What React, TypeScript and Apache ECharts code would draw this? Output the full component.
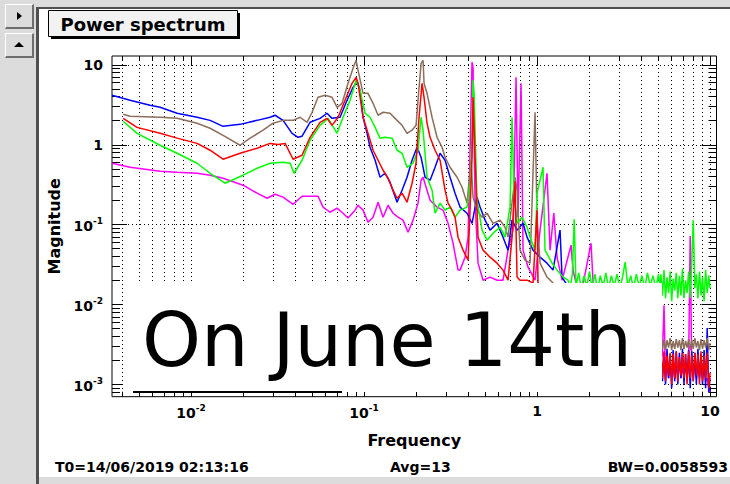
import React, { useEffect, useRef } from 'react';
import * as echarts from 'echarts';

// ---- axis extents and ticks ----
const X_MIN = 0.00349;
const X_MAX = 10.9;
const Y_MIN = 0.000704;
const Y_MAX = 12.9;

const xMajorTicks = [0.01, 0.1, 1, 10];
const xMinorTicks = [0.004, 0.005, 0.006, 0.007, 0.008, 0.009, 0.02, 0.03, 0.04, 0.05, 0.06, 0.07, 0.08, 0.09,
  0.2, 0.3, 0.4, 0.5, 0.6, 0.7, 0.8, 0.9, 2, 3, 4, 5, 6, 7, 8, 9];
const yMajorTicks = [0.001, 0.01, 0.1, 1, 10];
const yMinorTicks = [0.0008, 0.0009, 0.002, 0.003, 0.004, 0.005, 0.006, 0.007, 0.008, 0.009,
  0.02, 0.03, 0.04, 0.05, 0.06, 0.07, 0.08, 0.09, 0.2, 0.3, 0.4, 0.5, 0.6, 0.7, 0.8, 0.9, 2, 3, 4, 5, 6, 7, 8, 9];

// ---- series: [frequency, magnitude] ----
const blueMain = [[0.00349,4.16],[0.00444,3.6],[0.00579,3.12],[0.00662,2.94],[0.0083,2.48],[0.01083,2.21],[0.01288,2.02],[0.01531,1.7],[0.0192,1.8],[0.02407,2.02],[0.02861,2.21],[0.03058,2.34],[0.03402,2.02],[0.03836,1.39],[0.04154,1.24],[0.04381,1.28],[0.04873,1.91],[0.05568,2.14],[0.0611,2.48],[0.06531,2.14],[0.07265,2.21],[0.07973,3.6],[0.08637,5.23],[0.0911,6.22],[0.09482,4.8],[0.09867,2.21],[0.1041,1.39],[0.1083,0.93],[0.1158,0.64],[0.1237,0.392],[0.1322,0.44],[0.1413,0.34],[0.1551,0.191],[0.1658,0.27],[0.1772,0.392],[0.1894,0.64],[0.2025,0.93],[0.2136,0.698],[0.2253,0.392],[0.2408,0.36],[0.2573,0.523],[0.275,0.783],[0.2939,0.64],[0.3141,0.392],[0.3357,0.248],[0.3588,0.166],[0.3938,0.139],[0.4209,0.104],[0.4498,0.221],[0.4683,0.166],[0.5006,0.114],[0.535,0.0854],[0.5872,0.104],[0.636,0.0698],[0.6797,0.048],[0.717,0.114],[0.7663,0.0854],[0.83,0.104],[0.8754,0.0698],[0.9481,0.048],[1.041,0.0392],[1.142,0.033],[1.237,0.027],[1.358,0.0854],[1.395,0.0221],[1.491,0.0175],[1.659,0.0114],[2.312,0.0064],[3.939,0.0036],[5.14,0.0027]];

const brownMain = [[0.00405,2.41],[0.00444,2.27],[0.00662,2.21],[0.0083,2.14],[0.01083,1.86],[0.01288,1.61],[0.01531,1.31],[0.0192,0.986],[0.02193,1.21],[0.02607,1.52],[0.02979,1.86],[0.03402,2.02],[0.03888,2.02],[0.04266,2.21],[0.04683,1.91],[0.05006,2.55],[0.0542,3.92],[0.05951,4.16],[0.06531,3.92],[0.06982,2.94],[0.0746,3.3],[0.08078,5.87],[0.08637,9.04],[0.08991,11.4],[0.09232,8.54],[0.09867,4.4],[0.1054,4.4],[0.1127,3.3],[0.1205,2.34],[0.1288,2.55],[0.1413,2.48],[0.1551,2.02],[0.1658,1.75],[0.1772,1.39],[0.1894,1.52],[0.1998,1.75],[0.2051,3.6],[0.2136,10.4],[0.2193,11.4],[0.2222,5.87],[0.2312,4.4],[0.2472,2.21],[0.2642,1.24],[0.2824,0.93],[0.2939,0.698],[0.3141,0.523],[0.3449,0.392],[0.3686,0.294],[0.3938,0.186],[0.4154,0.64],[0.4266,0.221],[0.4498,0.152],[0.481,0.124],[0.514,0.139],[0.5568,0.104],[0.611,0.114],[0.6531,0.093],[0.6797,0.0698],[0.717,0.191],[0.7462,0.392],[0.7663,0.27],[0.7973,0.048],[0.8524,0.036],[0.911,0.033],[0.9737,2.55],[1.0,0.124],[1.041,0.033],[1.142,0.0221],[1.237,0.0186],[1.358,0.0114],[2.312,0.0064],[3.939,0.0042],[5.14,0.0034]];

const redMain = [[0.00405,2.14],[0.00487,1.65],[0.00662,1.39],[0.0083,1.21],[0.01083,1.04],[0.01288,0.854],[0.01531,0.659],[0.0192,0.783],[0.02407,0.904],[0.02861,1.04],[0.03184,1.01],[0.03494,1.04],[0.03888,0.659],[0.04381,0.739],[0.04873,1.24],[0.05568,1.91],[0.0611,2.14],[0.06531,1.75],[0.07075,2.21],[0.07763,3.6],[0.08522,5.87],[0.08991,6.98],[0.09232,5.87],[0.09867,2.21],[0.1054,1.39],[0.1127,0.854],[0.1205,0.64],[0.1288,0.48],[0.1376,0.381],[0.1471,0.27],[0.1551,0.214],[0.1658,0.248],[0.1772,0.191],[0.1894,0.33],[0.1998,0.587],[0.2079,2.21],[0.2164,5.87],[0.2222,3.92],[0.2312,1.86],[0.2408,1.24],[0.2573,0.854],[0.275,0.64],[0.2939,0.27],[0.3059,0.186],[0.3227,0.152],[0.3357,0.124],[0.3494,0.0698],[0.3736,0.048],[0.3994,0.036],[0.4209,0.698],[0.4266,3.92],[0.4381,0.698],[0.456,0.0698],[0.4874,0.048],[0.535,0.0392],[0.5872,0.033],[0.636,0.027],[0.6797,0.0202],[0.717,0.0698],[0.7462,0.35],[0.7663,0.0221],[0.7973,0.0202],[0.8754,0.0202],[0.9481,0.0186],[1.0,0.152],[1.013,0.0186],[1.112,0.0152],[1.358,0.0085],[2.312,0.0036],[5.14,0.002]];

const greenMain = [[0.00405,1.97],[0.00487,1.39],[0.00662,0.986],[0.0083,0.783],[0.01083,0.587],[0.01288,0.44],[0.01572,0.33],[0.01998,0.416],[0.02407,0.508],[0.02861,0.587],[0.03402,0.604],[0.03736,0.587],[0.0394,0.44],[0.04381,0.64],[0.04873,1.14],[0.05568,1.75],[0.06191,2.14],[0.06982,1.39],[0.0756,2.21],[0.083,3.6],[0.08991,6.4],[0.09482,4.8],[0.1013,2.48],[0.1083,2.21],[0.1158,1.65],[0.1237,1.21],[0.1322,1.24],[0.1452,1.21],[0.1551,0.854],[0.1658,0.783],[0.1772,0.523],[0.192,0.587],[0.2051,0.854],[0.2136,2.21],[0.2193,1.52],[0.2312,0.392],[0.2472,0.27],[0.2573,0.139],[0.275,0.186],[0.2939,0.152],[0.3141,0.166],[0.3357,0.124],[0.3588,0.152],[0.3938,0.166],[0.4154,0.392],[0.4266,6.4],[0.4323,4.4],[0.4498,0.202],[0.481,0.0854],[0.514,0.064],[0.5568,0.0783],[0.611,0.093],[0.6531,0.0698],[0.6982,0.166],[0.717,2.21],[0.7362,0.248],[0.7663,0.104],[0.819,0.124],[0.8754,0.093],[0.911,0.0698],[0.9737,0.048],[1.0,0.248],[1.083,0.523],[1.112,0.048],[1.221,0.033],[1.305,0.027],[1.413,0.0221],[1.511,0.0202],
  [1.55,0.016],[1.6,0.024],[1.64,0.117],[1.68,0.017],[1.74,0.025],[1.8,0.016],[1.87,0.023],[1.94,0.017],[2.01,0.026],[2.08,0.016],[2.16,0.024],[2.24,0.015],[2.32,0.023],[2.41,0.017],[2.5,0.025],[2.59,0.016],[2.69,0.023],[2.79,0.017],[2.9,0.024],[3.01,0.016],[3.12,0.022],[3.23,0.034],[3.35,0.017],[3.48,0.023],[3.61,0.016],[3.75,0.024],[3.89,0.017],[4.04,0.023],[4.19,0.016],[4.35,0.025],[4.51,0.017],[4.68,0.023],[4.86,0.016],[5.04,0.024],[5.14,0.016]];

const magentaMain = [[0.00349,0.587],[0.00444,0.523],[0.00662,0.467],[0.0083,0.453],[0.01083,0.44],[0.01288,0.416],[0.01531,0.381],[0.01998,0.312],[0.02407,0.248],[0.0275,0.214],[0.03058,0.24],[0.03402,0.221],[0.03888,0.18],[0.04381,0.227],[0.04873,0.227],[0.0542,0.227],[0.05794,0.166],[0.06358,0.143],[0.06982,0.161],[0.0756,0.139],[0.08078,0.121],[0.08872,0.152],[0.09232,0.175],[0.09867,0.152],[0.1054,0.107],[0.1127,0.124],[0.1205,0.191],[0.1288,0.124],[0.1376,0.175],[0.1471,0.139],[0.1572,0.124],[0.168,0.114],[0.1796,0.0806],[0.192,0.114],[0.2051,0.186],[0.2136,0.36],[0.2193,0.392],[0.2312,0.27],[0.2408,0.202],[0.2642,0.166],[0.2862,0.152],[0.3059,0.104],[0.3269,0.0587],[0.3494,0.027],[0.3588,0.027],[0.3836,0.0392],[0.3994,0.0698],[0.4209,10.8],[0.4266,9.31],[0.4381,0.202],[0.456,0.033],[0.4874,0.0202],[0.535,0.0221],[0.5872,0.0202],[0.636,0.0202],[0.6797,0.048],[0.7266,0.0854],[0.7562,6.98],[0.7763,0.124],[0.808,5.87],[0.83,0.048],[0.8872,0.0294],[0.9737,0.0202],[1.041,0.0854],[1.142,0.44],[1.189,0.048],[1.25,0.14],[1.305,0.0392],[1.395,0.0202],[1.572,0.0555],[1.615,0.027],[1.772,0.0114],[2.051,0.0587],[2.135,0.0114],[3.939,0.0036],[5.14,0.002]];

// high-frequency noise floor (5.2 .. 10 Hz)
const hfFreq = [5.2,5.31,5.42,5.53,5.64,5.76,5.88,6.0,6.12,6.25,6.38,6.51,6.65,6.79,6.93,7.07,7.22,7.37,7.52,7.68,7.84,8.0,8.17,8.34,8.51,8.69,8.87,9.05,9.24,9.43,9.63,9.83,10.0];
const greenHf = [0.024,0.013,0.027,0.012,0.022,0.014,0.026,0.011,0.021,0.015,0.025,0.012,0.023,0.013,0.028,0.012,0.02,0.014,0.026,0.012,0.035,0.114,0.016,0.024,0.012,0.026,0.013,0.022,0.011,0.027,0.014,0.023,0.016];
const brownHf = [0.0034,0.0028,0.0037,0.0027,0.0036,0.0029,0.0038,0.0027,0.0035,0.0028,0.0037,0.0029,0.0036,0.0027,0.0038,0.0028,0.0035,0.0029,0.0037,0.0027,0.0036,0.0028,0.0038,0.0029,0.0035,0.0027,0.0037,0.0028,0.0036,0.0029,0.0038,0.0027,0.0033];
const redHf = [0.0024,0.0012,0.0026,0.0011,0.0023,0.0013,0.0025,0.001,0.0024,0.0012,0.0026,0.0011,0.0022,0.0013,0.0025,0.0012,0.0024,0.001,0.0026,0.0012,0.0023,0.0011,0.0025,0.0013,0.0024,0.001,0.0026,0.0011,0.0023,0.0012,0.0025,0.0009,0.0014];
const blueHf = [0.0027,0.0011,0.0025,0.001,0.0028,0.0012,0.0024,0.0009,0.0027,0.0011,0.0026,0.001,0.0025,0.0012,0.0028,0.001,0.0024,0.0011,0.0027,0.0009,0.0026,0.0011,0.0025,0.001,0.0028,0.0012,0.0024,0.001,0.0027,0.0009,0.0051,0.0008,0.0012];
const magentaHf = [0.0018,0.0025,0.0098,0.0013,0.0017,0.0012,0.0018,0.0013,0.0016,0.0012,0.0017,0.0013,0.0018,0.0012,0.0016,0.0013,0.0017,0.0012,0.0018,0.072,0.0016,0.0013,0.0017,0.0012,0.0018,0.0013,0.0016,0.0012,0.0017,0.0011,0.0012,0.0009,0.0008];

const seriesDefs = [
  { name: 'magenta', color: '#ff00ff', main: magentaMain, hf: magentaHf },
  { name: 'blue', color: '#0000ff', main: blueMain, hf: blueHf },
  { name: 'brown', color: '#8c6e5c', main: brownMain, hf: brownHf },
  { name: 'green', color: '#00ff00', main: greenMain, hf: greenHf },
  { name: 'red', color: '#ff0000', main: redMain, hf: redHf },
];

const LABEL_FONT = 'DejaVu Sans';

function powLabel(v: number): string {
  const e = Math.round(Math.log10(v));
  if (e === 0) return '{b|1}';
  if (e === 1) return '{b|10}';
  return '{b|10}{s|' + e + '}';
}

const richLabel = {
  b: { fontFamily: LABEL_FONT, fontWeight: 'bold', fontSize: 14, color: '#000', verticalAlign: 'bottom' },
  s: { fontFamily: LABEL_FONT, fontWeight: 'bold', fontSize: 9, color: '#000', verticalAlign: 'bottom', padding: [0, 0, 7, 0] },
};

const dotted = { show: true, lineStyle: { color: '#000', width: 1, type: [1, 3] } };

function App() {
  const ref = useRef<HTMLDivElement>(null);
  useEffect(() => {
    if (!ref.current) return;
    const chart = echarts.init(ref.current, undefined, { renderer: 'svg' });
    const xBase = { type: 'log', logBase: 10, min: X_MIN, max: X_MAX, gridIndex: 0, axisLine: { show: false, onZero: false } };
    const yBase = { type: 'log', logBase: 10, min: Y_MIN, max: Y_MAX, gridIndex: 0, axisLine: { show: false, onZero: false } };
    const tick = (len: number, vals: number[]) => ({ show: true, inside: true, length: len, customValues: vals, lineStyle: { color: '#000', width: 1 } });
    const option: any = {
      animation: false,
      grid: { left: 112, top: 56, right: 13.5, bottom: 87.3, show: true, borderColor: '#000', borderWidth: 1, backgroundColor: 'transparent', containLabel: false, outerBoundsMode: 'none' },
      xAxis: [
        { ...xBase, position: 'bottom', axisTick: tick(10, xMajorTicks),
          axisLabel: { show: true, customValues: xMajorTicks, formatter: powLabel, rich: richLabel, margin: 7 },
          splitLine: dotted,
          name: 'Frequency', nameLocation: 'middle', nameGap: 36,
          nameTextStyle: { fontFamily: LABEL_FONT, fontWeight: 'bold', fontSize: 16, color: '#000' } },
        { ...xBase, position: 'bottom', axisTick: tick(5, xMinorTicks), axisLabel: { show: false }, splitLine: dotted },
        { ...xBase, position: 'top', axisTick: tick(10, xMajorTicks), axisLabel: { show: false }, splitLine: { show: false } },
        { ...xBase, position: 'top', axisTick: tick(5, xMinorTicks), axisLabel: { show: false }, splitLine: { show: false } },
      ],
      yAxis: [
        { ...yBase, position: 'left', axisTick: tick(15, yMajorTicks),
          axisLabel: { show: true, customValues: yMajorTicks, formatter: powLabel, rich: richLabel, margin: 9 },
          splitLine: dotted,
          name: 'Magnitude', nameLocation: 'middle', nameGap: 34, nameRotate: 90,
          nameTextStyle: { fontFamily: LABEL_FONT, fontWeight: 'bold', fontSize: 16, color: '#000' } },
        { ...yBase, position: 'left', axisTick: tick(8, yMinorTicks), axisLabel: { show: false }, splitLine: { show: false } },
        { ...yBase, position: 'right', axisTick: tick(15, yMajorTicks), axisLabel: { show: false }, splitLine: { show: false } },
        { ...yBase, position: 'right', axisTick: tick(8, yMinorTicks), axisLabel: { show: false }, splitLine: { show: false } },
      ],
      series: seriesDefs.map((s) => ({
        type: 'line',
        name: s.name,
        xAxisIndex: 0,
        yAxisIndex: 0,
        showSymbol: false,
        symbol: 'none',
        clip: true,
        lineStyle: { color: s.color, width: 1.5 },
        itemStyle: { color: s.color },
        data: s.main.concat(hfFreq.map((f, i) => [f, s.hf[i]])),
      })),
      graphic: { elements: [
        { type: 'rect', z: 100, silent: true, shape: { x: 123, y: 283, width: 539, height: 109 }, style: { fill: '#ffffff' } },
        { type: 'rect', z: 101, silent: true, shape: { x: 133, y: 391, width: 209, height: 2 }, style: { fill: '#000' } },
        { type: 'text', z: 102, x: 142, y: 340, silent: true,
          style: { text: 'On June 14th', font: '75px "DejaVu Sans"', fill: '#000', textAlign: 'left', textVerticalAlign: 'middle' } },
        { type: 'rect', z: 50, silent: true, shape: { x: 51, y: 13, width: 189, height: 26 }, style: { fill: '#000' } },
        { type: 'rect', z: 51, silent: true, shape: { x: 48.5, y: 10.5, width: 189, height: 26 }, style: { fill: '#f2f2f2', stroke: '#000', lineWidth: 1 } },
        { type: 'text', z: 52, x: 143, y: 24, silent: true,
          style: { text: 'Power spectrum', font: 'bold 18px "DejaVu Sans"', fill: '#000', textAlign: 'center', textVerticalAlign: 'middle' } },
        { type: 'text', z: 52, x: 55, y: 467, silent: true,
          style: { text: 'T0=14/06/2019 02:13:16', font: 'bold 14px "DejaVu Sans"', fill: '#000', textAlign: 'left', textVerticalAlign: 'middle' } },
        { type: 'text', z: 52, x: 390, y: 467, silent: true,
          style: { text: 'Avg=13', font: 'bold 14px "DejaVu Sans"', fill: '#000', textAlign: 'left', textVerticalAlign: 'middle' } },
        { type: 'text', z: 52, x: 728, y: 467, silent: true,
          style: { text: 'BW=0.0058593', font: 'bold 14px "DejaVu Sans"', fill: '#000', textAlign: 'right', textVerticalAlign: 'middle' } },
      ] },
    };
    chart.setOption(option);
    return () => chart.dispose();
  }, []);

  const btn = (top: number, h: number): React.CSSProperties => ({
    position: 'absolute', left: 5, top, width: 26, height: h, background: '#dcdcdc',
    borderTop: '1px solid #ffffff', borderLeft: '1px solid #ffffff',
    borderRight: '2px solid #6e6e6e', borderBottom: '2px solid #6e6e6e',
  });

  return (
    <div style={{ position: 'fixed', left: 0, top: 0, width: 730, height: 484, background: '#dcdcdc', overflow: 'hidden' }}>
      <div style={{ position: 'absolute', left: 39, top: 9, width: 691, height: 468, background: '#ffffff' }} />
      <div style={{ position: 'absolute', left: 36, top: 7, width: 3, height: 477, background: '#505050' }} />
      <div style={{ position: 'absolute', left: 36, top: 7, width: 694, height: 2, background: '#505050' }} />
      <div style={btn(4, 22)}>
        <div style={{ position: 'absolute', left: 11, top: 7, width: 0, height: 0, borderTop: '4px solid transparent', borderBottom: '4px solid transparent', borderLeft: '5px solid #000' }} />
      </div>
      <div style={btn(33, 22)}>
        <div style={{ position: 'absolute', left: 8, top: 8, width: 0, height: 0, borderLeft: '5px solid transparent', borderRight: '5px solid transparent', borderBottom: '5px solid #000' }} />
      </div>
      <div ref={ref} style={{ position: 'absolute', left: 0, top: 0, width: 730, height: 484 }} />
    </div>
  );
}

export default App;
